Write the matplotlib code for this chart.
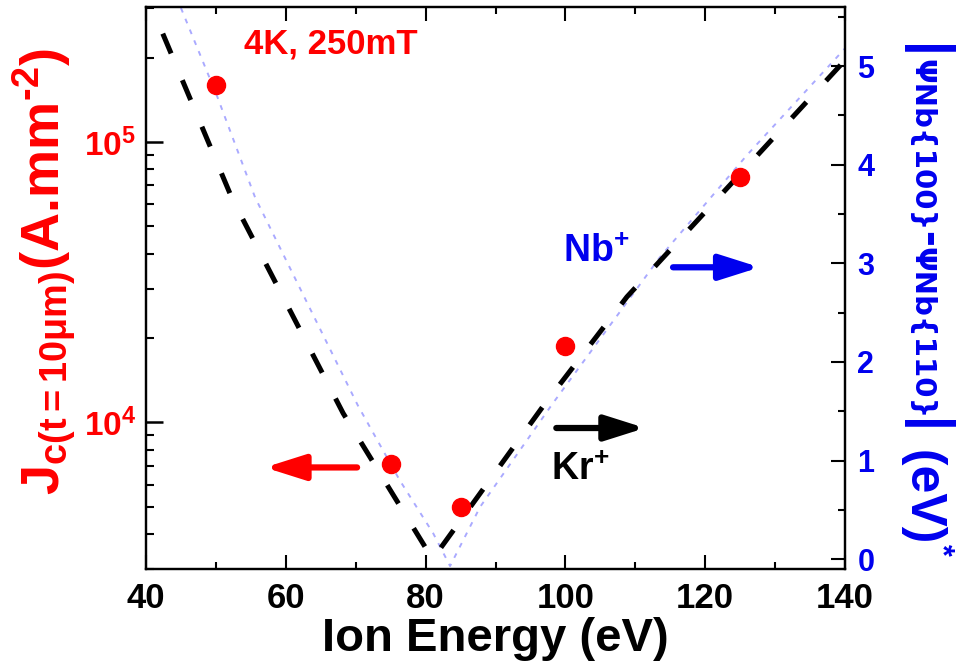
import numpy as np
import matplotlib
matplotlib.use("Agg")
import matplotlib.pyplot as plt
from matplotlib.ticker import LogLocator, NullFormatter, MultipleLocator, FixedLocator

## data
energy = [50, 75, 85, 100, 125]                      # eV
jc = [1.6e5, 7.1e3, 5.0e3, 1.88e4, 7.5e4]            # A.mm^-2

kr_x = [42.4, 52.3, 68.2, 81.0, 96.8, 108.8, 140.0]  # black dashed (right axis)
kr_y = [5.33, 3.66, 1.48, 0.0, 1.55, 2.66, 5.06]

nb_x = [45.0, 50.2, 55.6, 70.3, 76.3, 81.1, 83.5, 87.8, 98.2, 113.5, 126.0, 140.0]  # blue dotted
nb_y = [5.59, 4.69, 3.67, 1.56, 0.80, 0.26, -0.07, 0.53, 1.58, 3.06, 4.10, 5.18]

xticks = [40, 60, 80, 100, 120, 140]
rticks = [0, 1, 2, 3, 4, 5]

plt.rcParams['font.family'] = ['Liberation Sans', 'DejaVu Sans']
plt.rcParams['font.weight'] = 'bold'
plt.rcParams['axes.labelweight'] = 'bold'
plt.rcParams['mathtext.fontset'] = 'custom'
plt.rcParams['mathtext.rm'] = 'Liberation Sans:bold'
plt.rcParams['mathtext.it'] = 'Liberation Sans:bold'
plt.rcParams['mathtext.bf'] = 'Liberation Sans:bold'
plt.rcParams['axes.linewidth'] = 1.6

RED = '#ff0000'
BLUE = '#0000ee'
W, H = 961, 668

fig = plt.figure(figsize=(9.61, 6.68), dpi=100)
ax = fig.add_axes([146/W, 1-569/H, (845-146)/W, (569-7)/H])
ax2 = ax.twinx()

# left axis: Jc, log
ax.set_yscale('log')
ax.set_ylim(3e3, 3.03e5)
ax.set_xlim(40, 140)
ax.plot(energy, jc, 'o', color=RED, ms=13, zorder=5, clip_on=False)

ax.yaxis.set_major_locator(FixedLocator([1e4, 1e5]))
ax.yaxis.set_minor_locator(LogLocator(base=10, subs=np.arange(2, 10)))
ax.yaxis.set_minor_formatter(NullFormatter())
ax.set_yticklabels([r'$\mathregular{10^{4}}$', r'$\mathregular{10^{5}}$'])
ax.tick_params(axis='y', which='major', direction='in', length=12, width=1.8,
               labelsize=24, labelcolor=RED, pad=7)
ax.tick_params(axis='y', which='minor', direction='in', length=6, width=1.5)

ax.set_xticks(xticks)
ax.xaxis.set_minor_locator(MultipleLocator(10))
ax.tick_params(axis='x', which='major', direction='in', length=10, width=1.5,
               top=True, labelsize=25, pad=9)
ax.tick_params(axis='x', which='minor', direction='in', length=5, width=1.5, top=True)

# right axis: work function difference
ax2.set_ylim(-0.1, 5.6)
ax2.plot(kr_x, kr_y, color='black', lw=3.6, dashes=(4.3, 5.8), zorder=3)
ax2.plot(nb_x, nb_y, color='#aaaaff', lw=1.4, ls=(0, (2.5, 3.5)), zorder=2)
ax2.set_yticks(rticks)
ax2.yaxis.set_minor_locator(MultipleLocator(0.5))
ax2.tick_params(axis='y', which='major', direction='in', length=10, width=1.5,
                labelsize=22, labelcolor=BLUE, pad=9)
ax2.tick_params(axis='y', which='minor', direction='in', length=5, width=1.5)

ax.set_zorder(ax2.get_zorder() + 1)
ax.patch.set_visible(False)

# arrows
arw = dict(arrowstyle='-|>,head_length=1.2,head_width=0.38', mutation_scale=20,
           lw=4.5, shrinkA=0, shrinkB=0)
ax2.annotate('', xy=(57.0, 0.93), xytext=(70.2, 0.93), arrowprops=dict(arw, color=RED))
ax2.annotate('', xy=(111.4, 1.33), xytext=(98.7, 1.33), arrowprops=dict(arw, color='black'))
ax2.annotate('', xy=(127.8, 2.96), xytext=(115.4, 2.96), arrowprops=dict(arw, color=BLUE))

# labels in the plot
fig.text(331/W, 1-44/H, '4K, 250mT', color=RED, fontsize=25, ha='center', va='center')
fig.text(596/W, 1-252/H, r'Nb$^{\mathregular{+}}$', color=BLUE, fontsize=27,
         ha='center', va='center')
fig.text(580/W, 1-470/H, r'Kr$^{\mathregular{+}}$', color='black', fontsize=27,
         ha='center', va='center')

ax.set_xlabel('Ion Energy (eV)', fontsize=34, labelpad=2)

fig.text(45/W, 1-272/H,
         'J$_{\\mathregular{c(t=10\\mu m)}}$(A.mm$^{\\mathregular{\u2010}2}$)',
         color=RED, fontsize=39, rotation=90, ha='center', va='center')

# right label, built from pieces stacked top to bottom
pieces = [('|', 38, 'bold', 900, 'Liberation Sans'),
          ('\u03a8Nb{100}', 21, 'bold', 907, 'DejaVu Sans'),
          ('-', 34, 'bold', 906, 'Liberation Sans'),
          ('\u03a8Nb{110}', 21, 'bold', 907, 'DejaVu Sans'),
          ('|', 38, 'bold', 900, 'Liberation Sans'),
          (' (eV)', 36, 'bold', 901, 'Liberation Sans')]
renderer = fig.canvas.get_renderer()
ytop = 44
for s, fs, fw, xl, fam in pieces:
    t = fig.text(xl/W, 1-ytop/H, s, color=BLUE, fontsize=fs, fontweight=fw,
                 family=fam, rotation=-90, ha='left', va='top')
    bb = t.get_window_extent(renderer)
    ytop = H - bb.y0
fig.text(926/W, 1-(ytop+2)/H, '*', color=BLUE, fontsize=22, rotation=-90,
         ha='left', va='top')

fig.savefig('out.png', dpi=100)
